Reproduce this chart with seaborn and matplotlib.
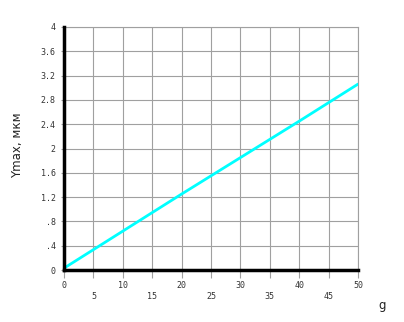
import matplotlib
matplotlib.use("Agg")
import matplotlib.pyplot as plt
import seaborn as sns
import pandas as pd

g_values = [0, 10, 20, 30, 40, 50]
ymax_values = [0.03, 0.64, 1.25, 1.85, 2.45, 3.06]
x_ticks = [0, 5, 10, 15, 20, 25, 30, 35, 40, 45, 50]
y_ticks = [0, 0.4, 0.8, 1.2, 1.6, 2, 2.4, 2.8, 3.2, 3.6, 4]
y_tick_labels = ["0", ".4", ".8", "1.2", "1.6", "2", "2.4", "2.8", "3.2", "3.6", "4"]

sns.set_style("white")
fig = plt.figure(figsize=(4.04, 3.22), dpi=100)
ax = fig.add_axes([64/404, 52/322, 294/404, 243/322])

df = pd.DataFrame({"g": g_values, "ymax": ymax_values})
sns.lineplot(data=df, x="g", y="ymax", ax=ax, color="#00FFFF", linewidth=2, zorder=3)

ax.set_xlim(0, 50)
ax.set_ylim(0, 4)
ax.set_xticks(x_ticks)
ax.set_xticklabels([str(v) if i % 2 == 0 else "\n" + str(v) for i, v in enumerate(x_ticks)],
                   fontfamily="DejaVu Sans Mono", fontsize=6, color="#333333", linespacing=1.2)
ax.set_yticks(y_ticks)
ax.set_yticklabels(y_tick_labels, fontfamily="DejaVu Sans Mono", fontsize=6, color="#333333")
ax.grid(True, color="#a0a0a0", linewidth=0.8)
ax.tick_params(axis="x", length=6, width=0.8, color="#a0a0a0", pad=2, direction="out", bottom=True)
ax.tick_params(axis="y", length=2, width=0.8, color="#a0a0a0", pad=4, direction="out", left=True)

for s in ["top", "right"]:
    ax.spines[s].set_color("#a0a0a0")
    ax.spines[s].set_linewidth(0.8)
for s in ["left", "bottom"]:
    ax.spines[s].set_color("black")
    ax.spines[s].set_linewidth(2.5)
    ax.spines[s].set_zorder(4)

ax.set_xlabel("")
ax.set_ylabel("")
fig.text(18/404, 1 - 145/322, "Ymax, мкм", rotation=90, ha="center", va="center",
         fontsize=8.5, fontfamily="DejaVu Sans", color="#222222")
fig.text(382/404, 1 - 306/322, "g", ha="center", va="center",
         fontsize=8.5, fontfamily="DejaVu Sans", color="#222222")

fig.savefig("out.png", dpi=100)
